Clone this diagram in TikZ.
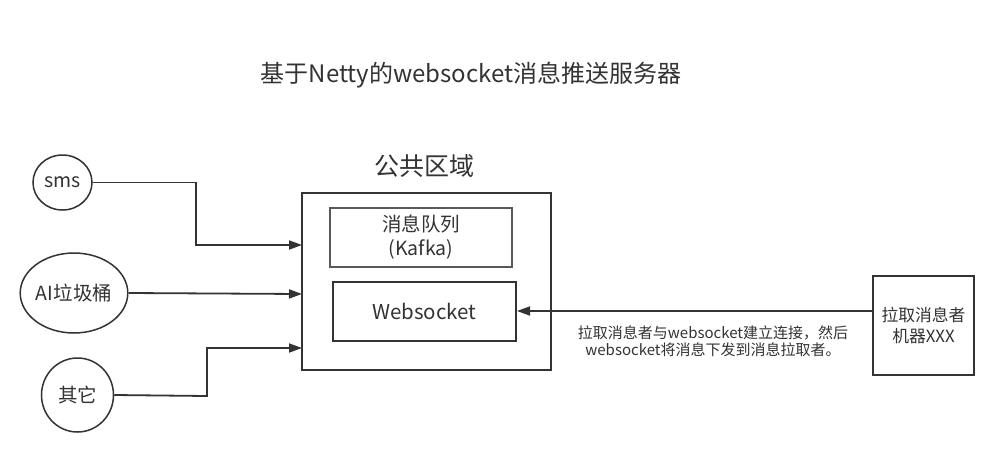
\documentclass[tikz,border=0pt]{standalone}
\usepackage{fontspec}
\setmainfont{Noto Sans CJK SC}
\usetikzlibrary{arrows.meta,shapes.geometric}
\definecolor{txt}{HTML}{333333}
\definecolor{ln}{HTML}{333333}
\tikzset{
  src/.style={ellipse,draw=ln,line width=1.5pt,inner sep=0pt,text=txt},
  box/.style={rectangle,draw=ln,line width=2pt,inner sep=0pt,text=txt,align=center},
  conn/.style={draw=ln,line width=1.8pt,-{Triangle[length=13pt,width=9pt]}},
}
\begin{document}
\begin{tikzpicture}[x=1pt,y=-1pt]
\useasboundingbox[fill=white] (0,0) rectangle (999,456);
\node[text=txt,font=\fontsize{24}{28}\selectfont] (title) at (471,75) {基于Netty的websocket消息推送服务器};
\node[text=txt,font=\fontsize{25}{29}\selectfont] (pub) at (424,166) {公共区域};
\node[box,minimum width=249pt,minimum height=177pt] (outer) at (426.5,281.5) {};
\node[box,line width=1.6pt,draw=black!65,minimum width=182pt,minimum height=59pt,font=\fontsize{19.5}{24}\selectfont] (kafka) at (421,237.5) {消息队列\\(Kafka)};
\node[box,minimum width=183pt,minimum height=59pt,font=\fontsize{20.5}{24}\selectfont] (ws) at (424.5,311.5) {Websocket};
\node[src,minimum width=59pt,minimum height=55pt,font=\fontsize{19.5}{23}\selectfont] (sms) at (62.5,182.5) {sms};
\node[src,minimum width=98pt,minimum height=80pt,font=\fontsize{19.5}{23}\selectfont] (ai) at (74,293) {AI垃圾桶};
\node[src,minimum width=72pt,minimum height=74pt,font=\fontsize{19.5}{23}\selectfont] (qt) at (77.5,395) {其它};
\node[box,minimum width=101pt,minimum height=99pt,font=\fontsize{16.8}{21}\selectfont] (puller) at (923.5,325.5) {拉取消息者\\机器XXX};
\coordinate (o1) at (302,245);
\coordinate (o2) at (302,294);
\coordinate (o3) at (302,348);
\draw[conn] (sms.east) -- (196,182.5) |- (o1);
\draw[conn] (ai.east) -- (o2);
\draw[conn] (qt.east) -- (207,396) |- (o3);
\draw[conn] (puller.west |- 0,311) -- (ws.east |- 0,311);
\node[text=txt,align=center,font=\fontsize{15}{16.5}\selectfont] (lbl) at (713,341) {拉取消息者与websocket建立连接，然后\\websocket将消息下发到消息拉取者。};
\end{tikzpicture}
\end{document}
